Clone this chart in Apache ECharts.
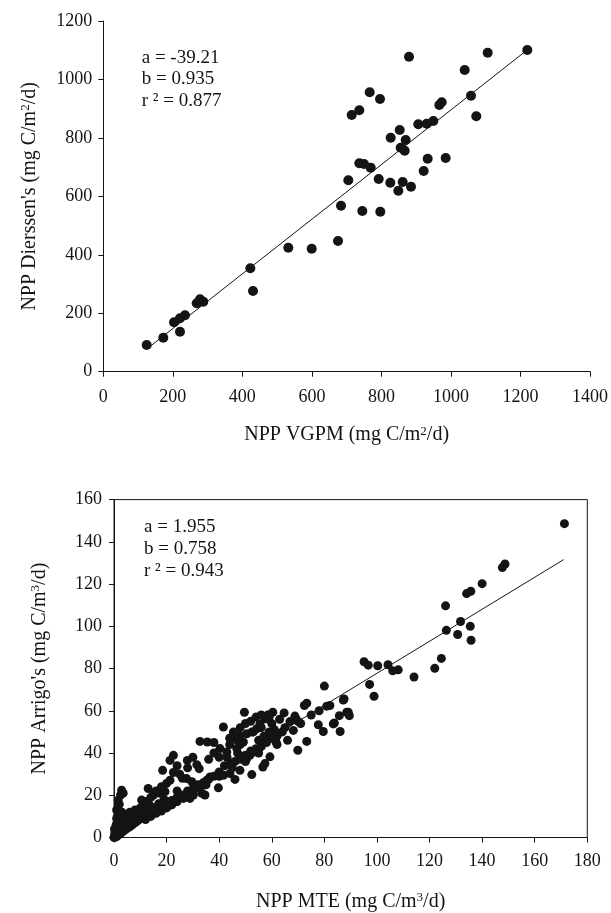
<!DOCTYPE html>
<html><head><meta charset="utf-8">
<script src="https://cdn.jsdelivr.net/npm/echarts@6/dist/echarts.min.js"></script>
<style>html,body{margin:0;padding:0;background:#fff}#c{width:611px;height:913px}</style>
</head><body><div id="c"></div>
<script>
// ---- Top panel: NPP VGPM vs NPP Dierssen's ----
const topPoints = [
 [124.8,91.4],[172.6,116.3],[203.4,169],[220.6,182.7],[235,193],[220.6,136.9],[268.7,234],[278.2,247.7],
 [287.7,239.5],[422.9,353.8],[430.6,276.1],[532.2,424.3],[599.5,420.9],[675.1,447.2],[683.8,568],[704.8,654.9],
 [714.5,878.4],[736.4,894.4],[736.4,713.1],[749.9,710.7],[769.2,698],[745,549.9],[766.3,956],[792.2,659.4],
 [795.9,933.1],[796.8,547.5],[825.6,646.7],[826.7,800.7],[848.6,619.3],[852.6,827],[855.5,766.5],[866.9,756.2],
 [861.2,649.1],[869.9,792.8],[879.4,1077.9],[885.1,633],[906.1,846.5],[921.6,686.7],[930.2,848.6],[933.1,728.8],
 [949.3,857.8],[966.5,912.6],[973.4,921.8],[984.9,731.2],[1039.5,1032.3],[1057.7,944.4],[1072.9,873.9],
 [1105.7,1091.6],[1219.6,1100.7]
];
const topFit = {a: -39.21, b: 0.935, r2: 0.877};
const topFitRange = [125, 1220];
const topXTicks = [0, 1400, 200];
const topYTicks = [0, 1200, 200];

// ---- Bottom panel: NPP MTE vs NPP Arrigo's ----
const bottomPoints = [
 [0,0],[0.3,0.5],[0.5,0.2],[0.8,1],[1,0.5],[1.2,1.5],[1.5,1],[1.8,2],[2,1.5],[2.2,2.5],[2.5,2],[3,2.5],[3.2,3.5],
 [3.5,3],[4,3.5],[4.5,4],[5,4.5],[5.5,5],[6,5],[6.5,6],[7,6],[7.5,7],[8,7],[8.5,7.5],[9,8],[9.5,8.5],[10,9],
 [0.5,3],[1,4],[1.5,5],[0.8,6],[1.2,7],[2,8],[1.6,10.6],[2.3,11.4],[1,9],[2,15.7],[1.6,17.7],[2.5,20.1],[2.9,22.4],
 [3.5,21],[1,13],[3,12],[4,10],[5.4,10.6],[7.3,10.6],[8.6,11.4],[6,8],[3,6],[4,7],[5,8],[2,5],[0.3,2],[0.2,4],
 [3.5,9],[4.5,6],[5,9],[7,9],[6,12],[8,13],[10,14],
 [10.5,17.7],[11.1,15.4],[13.7,15.1],[13,23.2],[15,20.1],[17.5,20.9],[19.4,21.7],[20,17],[21.3,15.4],[18.7,13.8],
 [16.8,13],[11,10],[12,11],[13,11],[14,12],[15,12.5],[16,13.5],[17,14],[18,15],[19,15.5],[20,16],[22,17.5],[24,19],
 [25,19.5],[26,20],[28,22],[12,8.5],[14,10],[16,11.5],[18,12.5],[20,14],[22,15.5],[24,17],[26,19],[23.8,17],
 [25.1,20.1],[26.4,18.5],[28.9,18.5],[30.2,20.1],[22.6,38.9],[21.3,36.5],[18.5,31.8],[22.6,30.8],[21.3,27.1],
 [20,25.6],[27.6,27.9],[29.6,26.4],[27.9,36.5],[31.5,34.5],[32.4,32.6],[32.7,45.5],[35.5,45.2],[36.5,28.7],
 [35.3,27.1],[34,24.8],[32.1,23.5],[34.6,20.1],[33.4,20.9],[15,14],[19,18],[24,22],[12,13],[17,16],[30,23],
 [32,25],[34,26],[36,27.5],[38,29],[40,31],[12,17],[14,19],[16,22],[18,24],[24,34],[25,30],[26,28],[28,33],[30,38],
 [30,21],[35,25],
 [39.7,23.5],[44.1,30.3],[41.6,29.5],[46,27.5],[47.9,31.8],[52.4,29.8],[51.7,38.9],[53,40.5],[50.5,37.4],
 [40.3,42.1],[42.9,40.5],[49.2,45.2],[46.9,46],[46.7,42.1],[41.6,52.3],[45.4,49.9],[58.1,56.2],[55.5,53.8],
 [54.3,51.5],[52.4,49.9],[50.5,49.1],[47.9,48.3],[49.6,59.3],[59.3,38.2],[57.4,35],[56.6,33.4],[61.6,45.2],
 [60.4,59.3],[58.7,58.1],[57.4,56.2],[64.7,59],[66.9,54.9],[69.2,56.2],[68.2,50.7],[68.8,57.5],[42,34],[44,35],
 [46,36],[48,37],[50,39],[52,41],[54,42],[56,43],[58,45],[60,47],[62,48],[43,38],[47,40],[55,46],[57,48],[59,50],
 [61,51],[36,37],[38,40],[40,38],[44,44],[46,48],[48,52],[50,54],[52,55],[54,57],[56,58],[59,57],[38,45],[44,47],
 [48,44],[53,50],[56,52],[60,54],[63,56],[40,29],[45,33],[50,36],[55,40],[62,44],[66,46],
 [69.9,41.3],[73.3,45.5],[72.4,62.5],[73.3,63.6],[77.7,53.4],[79.6,50.2],[80,71.7],[80.9,62.2],[82.1,62.5],
 [83.4,53.8],[85.7,57.7],[86,50.2],[87.5,65.6],[88.5,59.3],[89.1,59.3],[89.5,57.7],[83.8,54.2],[87.2,65.1],
 [65,52],[70,55],[75,58],[78,60],[64,50],[71,54],
 [95.1,83.2],[96.7,81.6],[100.3,81.3],[104.2,81.8],[106,78.9],[108.1,79.4],[97.2,72.5],[98.9,66.9],[114.1,76],
 [122,80.1],[124.5,84.8],[126.1,109.7],[126.4,98.1],[130.7,96.1],[131.8,102.3],[135.5,100],[135.8,93.4],
 [134.1,115.5],[135.7,116.6],[140,120.2],[147.7,127.8],[148.7,129.5],[171.3,148.6]
];
const bottomFit = {a: 1.955, b: 0.758, r2: 0.943};
const bottomFitRange = [0, 171];
const bottomXTicks = [0, 180, 20];
const bottomYTicks = [0, 160, 20];

const FONT = 'Liberation Serif';
const INK = '#141414';

function fitLine(fit, range) {
  return range.map(x => [x, fit.a + fit.b * x]);
}
const plain = v => String(v);

const chart = echarts.init(document.getElementById('c'), null, {renderer: 'canvas'});

const axisCommon = {
  axisLine: {show: true, onZero: false, lineStyle: {color: INK, width: 1}},
  axisTick: {show: true, inside: false, length: 5, lineStyle: {color: INK}},
  splitLine: {show: false},
  nameLocation: 'middle',
  nameTextStyle: {fontFamily: FONT, fontSize: 20, color: INK,
    rich: {sup: {fontFamily: FONT, fontSize: 13, color: INK, verticalAlign: 'top', padding: [0, 0, 8, 0]}}}
};
const lbl = m => ({fontFamily: FONT, fontSize: 18, color: INK, margin: m, formatter: plain});

const option = {
  backgroundColor: '#fff',
  animation: false,
  grid: [
    {left: 103.3, top: 21, width: 486.7, height: 350.7},
    {left: 114, top: 499.6, width: 473.3, height: 339.7, show: true, borderColor: INK, borderWidth: 1}
  ],
  xAxis: [
    Object.assign({}, axisCommon, {gridIndex: 0, type: 'value', min: topXTicks[0], max: topXTicks[1], interval: topXTicks[2],
      name: 'NPP VGPM (mg C/m{sup|2}/d)', nameGap: 53, axisLabel: lbl(17)}),
    Object.assign({}, axisCommon, {gridIndex: 1, type: 'value', min: bottomXTicks[0], max: bottomXTicks[1], interval: bottomXTicks[2],
      name: 'NPP MTE (mg C/m{sup|3}/d)', nameGap: 54, axisLabel: lbl(15)})
  ],
  yAxis: [
    Object.assign({}, axisCommon, {gridIndex: 0, type: 'value', min: topYTicks[0], max: topYTicks[1], interval: topYTicks[2],
      name: "NPP Dierssen's (mg C/m{sup|2}/d)", nameGap: 63, axisLabel: lbl(11)}),
    Object.assign({}, axisCommon, {gridIndex: 1, type: 'value', min: bottomYTicks[0], max: bottomYTicks[1], interval: bottomYTicks[2],
      name: "NPP Arrigo's (mg C/m{sup|3}/d)", nameGap: 64, axisLabel: lbl(12)})
  ],
  series: [
    {type: 'line', xAxisIndex: 0, yAxisIndex: 0, data: fitLine(topFit, topFitRange), symbol: 'none',
      lineStyle: {color: INK, width: 1}, silent: true, z: 1},
    {type: 'scatter', xAxisIndex: 0, yAxisIndex: 0, data: topPoints, symbol: 'circle', symbolSize: 10,
      itemStyle: {color: INK, opacity: 1}, z: 2},
    {type: 'line', xAxisIndex: 1, yAxisIndex: 1, data: fitLine(bottomFit, bottomFitRange), symbol: 'none',
      lineStyle: {color: INK, width: 1}, silent: true, z: 1},
    {type: 'scatter', xAxisIndex: 1, yAxisIndex: 1, data: bottomPoints, symbol: 'circle', symbolSize: 9,
      itemStyle: {color: INK, opacity: 1}, z: 2}
  ],
  graphic: [
    {type: 'text', left: 141.7, top: 47, style: {
      text: 'a = ' + topFit.a.toFixed(2) + '\nb = ' + topFit.b.toFixed(3) + '\nr \u00b2 = ' + topFit.r2.toFixed(3),
      font: '19px "' + FONT + '"', fill: INK, lineHeight: 21.5}},
    {type: 'text', left: 144, top: 516, style: {
      text: 'a = ' + bottomFit.a.toFixed(3) + '\nb = ' + bottomFit.b.toFixed(3) + '\nr \u00b2 = ' + bottomFit.r2.toFixed(3),
      font: '19px "' + FONT + '"', fill: INK, lineHeight: 22}}
  ]
};
chart.setOption(option);
</script></body></html>
